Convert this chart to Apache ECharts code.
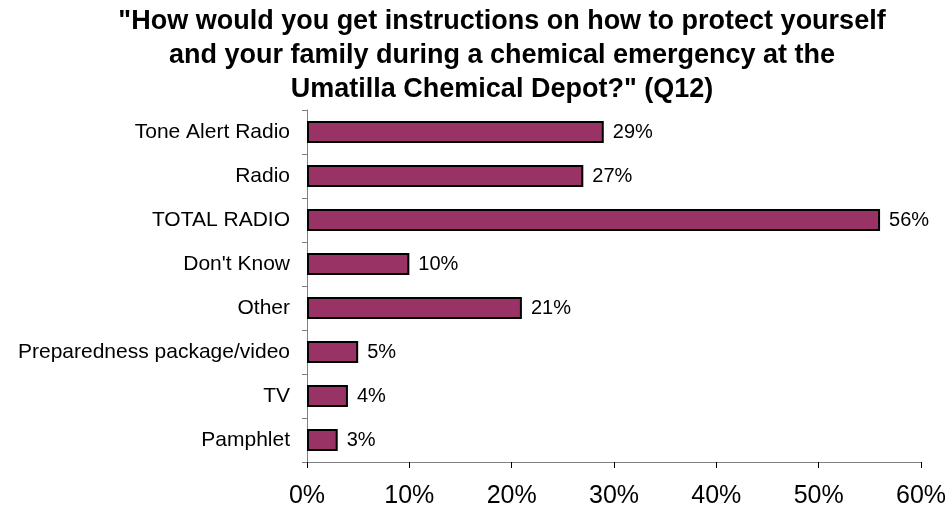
<!DOCTYPE html>
<html>
<head>
<meta charset="utf-8">
<script src="https://cdn.jsdelivr.net/npm/echarts@6/dist/echarts.min.js"></script>
<style>
  html, body { margin: 0; padding: 0; background: #fff; }
  #chart { width: 951px; height: 511px; }
</style>
</head>
<body>
<div id="chart"></div>
<script>
  const CATEGORIES = [
    "Tone Alert Radio",
    "Radio",
    "TOTAL RADIO",
    "Don't Know",
    "Other",
    "Preparedness package/video",
    "TV",
    "Pamphlet",
  ];
  const VALUES = [29, 27, 56, 10, 21, 5, 4, 3];
  const X_TICKS = [0, 10, 20, 30, 40, 50, 60];

  const myChart = echarts.init(document.getElementById("chart"));
  const option = {
    animation: false,
    title: {
      text: '"How would you get instructions on how to protect yourself\nand your family during a chemical emergency at the\nUmatilla Chemical Depot?" (Q12)',
      left: 497,
      top: 0,
      textAlign: "center",
      textStyle: {
        fontFamily: "Liberation Sans",
        fontSize: 27,
        fontWeight: "bold",
        color: "#000",
        lineHeight: 34,
      },
    },
    grid: {
      left: 307,
      right: 30,
      top: 110,
      bottom: 49,
      containLabel: false,
    },
    xAxis: {
      type: "value",
      min: X_TICKS[0],
      max: X_TICKS[X_TICKS.length - 1],
      interval: 10,
      splitLine: { show: false },
      axisLine: { show: true, lineStyle: { color: "#808080", width: 1 } },
      axisTick: { show: true, length: 6, lineStyle: { color: "#000" } },
      axisLabel: {
        formatter: "{value}%",
        fontFamily: "Liberation Sans",
        fontSize: 25,
        color: "#000",
        margin: 22,
      },
    },
    yAxis: {
      type: "category",
      data: CATEGORIES,
      inverse: true,
      axisLine: { show: true, lineStyle: { color: "#808080", width: 1 } },
      axisTick: { show: true, length: 5, lineStyle: { color: "#808080" } },
      axisLabel: {
        fontFamily: "Liberation Sans",
        fontSize: 21,
        color: "#000",
        margin: 17,
      },
    },
    series: [
      {
        type: "bar",
        data: VALUES,
        barWidth: "50%",
        itemStyle: {
          color: "#993366",
          borderColor: "#000",
          borderWidth: 2,
        },
        label: {
          show: true,
          position: "right",
          formatter: "{c}%",
          fontFamily: "Liberation Sans",
          fontSize: 20,
          color: "#000",
          distance: 9,
        },
      },
    ],
  };
  myChart.setOption(option);
</script>
</body>
</html>
